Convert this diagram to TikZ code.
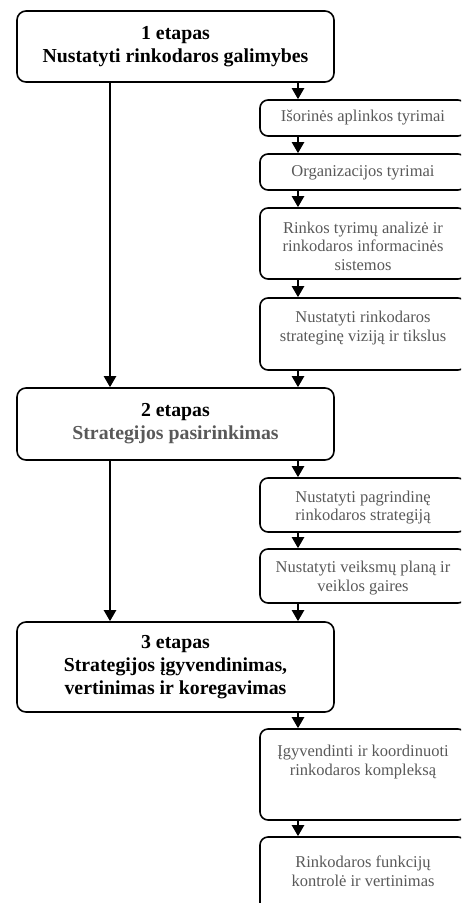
\documentclass[tikz,border=0pt]{standalone}
\usepackage{fontspec}
\setmainfont{Liberation Serif}
\usetikzlibrary{arrows.meta}
\definecolor{subtext}{RGB}{89,89,89}
\tikzset{stage/.style={draw,line width=1.6pt,rounded corners=9pt,minimum width=317pt,align=center,
 font=\fontsize{19.8}{23}\selectfont\bfseries},
 taskbox/.style={draw,line width=1.6pt,rounded corners=8pt,minimum width=206pt},
 tasktext/.style={text=subtext,align=center,font=\fontsize{16.5}{18.5}\selectfont},
 flow/.style={-{Triangle[width=12pt,length=11pt]},line width=2.2pt}}

\begin{document}
\begin{tikzpicture}[x=1pt,y=-1pt]
\clip (0,0) rectangle (461,903);
\coordinate (lft) at (110,0);
\coordinate (rgt) at (298,0);
% etapai
\node[stage,minimum height=71pt] (e1) at (175.5,46.5) {1 etapas\\Nustatyti rinkodaros galimybes};
\node[stage,minimum height=72pt] (e2) at (175.5,424) {2 etapas\\\textcolor{subtext}{Strategijos pasirinkimas}};
\node[stage,minimum height=90pt] (e3) at (175.5,667) {3 etapas\\Strategijos įgyvendinimas,\\vertinimas ir koregavimas};
% darbai
\foreach \n/\yc/\h/\yt/\txt in {1/118/36/118/{Išorinės aplinkos tyrimai},
 2/172/36/173/{Organizacijos tyrimai},
 3/243.5/71/246/{Rinkos tyrimų analizė ir\\rinkodaros informacinės\\sistemos},
 4/334/72/328/{Nustatyti rinkodaros\\strateginę viziją ir tikslus},
 5/505/54/507.5/{Nustatyti pagrindinę\\rinkodaros strategiją},
 6/576/54/578/{Nustatyti veiksmų planą ir\\veiklos gaires},
 7/774.5/91/762/{Įgyvendinti ir koordinuoti\\rinkodaros kompleksą},
 8/882/90/871.5/{Rinkodaros funkcijų\\kontrolė ir vertinimas}} {
\node[taskbox,minimum height=\h pt] (s\n) at (363,\yc) {};
\node[tasktext] (t\n) at (363,\yt) {\txt};
}
% rodyklės
\draw[flow] (e1.south -| lft) -- (e2.north -| lft);
\draw[flow] (e2.south -| lft) -- (e3.north -| lft);
\draw[flow] (e1.south -| rgt) -- (s1.north -| rgt);
\foreach \a/\b in {1/2,2/3,3/4,5/6,7/8}
 \draw[flow] (s\a.south -| rgt) -- (s\b.north -| rgt);
\draw[flow] (s4.south -| rgt) -- (e2.north -| rgt);
\draw[flow] (e2.south -| rgt) -- (s5.north -| rgt);
\draw[flow] (s6.south -| rgt) -- (e3.north -| rgt);
\draw[flow] (e3.south -| rgt) -- (s7.north -| rgt);
\end{tikzpicture}
\end{document}
